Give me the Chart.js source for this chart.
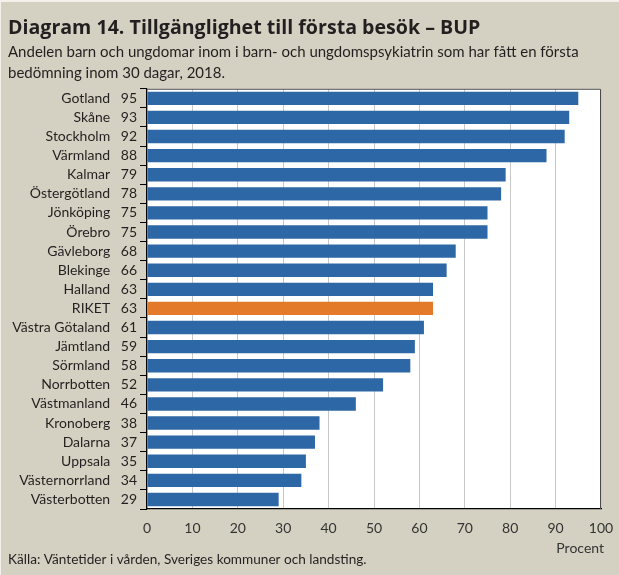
<!DOCTYPE html>
<html>
<head>
<meta charset="utf-8">
<script src="https://cdn.jsdelivr.net/npm/chart.js@4"></script>
<style>
  body { margin: 0; background: #f3f1ea; }
  #wrap { position: absolute; left: 1px; top: 2px; width: 618px; height: 573px; background: #d5d1c2; }
</style>
</head>
<body>
<div id="wrap"><canvas id="chart" width="618" height="573"></canvas></div>
<script>
var regions = ['Gotland', 'Skåne', 'Stockholm', 'Värmland', 'Kalmar', 'Östergötland', 'Jönköping', 'Örebro',
  'Gävleborg', 'Blekinge', 'Halland', 'RIKET', 'Västra Götaland', 'Jämtland', 'Sörmland', 'Norrbotten',
  'Västmanland', 'Kronoberg', 'Dalarna', 'Uppsala', 'Västernorrland', 'Västerbotten'];
var share = [95, 93, 92, 88, 79, 78, 75, 75, 68, 66, 63, 63, 61, 59, 58, 52, 46, 38, 37, 35, 34, 29];
var xTicks = [0, 10, 20, 30, 40, 50, 60, 70, 80, 90, 100];

var blue = '#2e67a5';
var orange = '#e27a2a';
var txt = '#231f20';

var barColors = [];
for (let i = 0; i < regions.length; i++) {
  barColors[i] = regions[i] == 'RIKET' ? orange : blue;
}

var framePlugin = {
  id: 'frame',
  beforeDraw: function (chart) {
    var a = chart.chartArea;
    var ctx = chart.ctx;
    ctx.save();
    ctx.fillStyle = '#ffffff';
    ctx.fillRect(a.left, a.top, a.right - a.left, a.bottom - a.top);
    ctx.restore();
  },
  afterDraw: function (chart) {
    var a = chart.chartArea;
    var ctx = chart.ctx;
    ctx.save();
    // top and right edge of the plot box
    ctx.strokeStyle = '#4a4a4a';
    ctx.lineWidth = 1;
    ctx.beginPath();
    ctx.moveTo(a.left, a.top + 0.5);
    ctx.lineTo(a.right - 0.5, a.top + 0.5);
    ctx.lineTo(a.right - 0.5, a.bottom);
    ctx.stroke();
    ctx.textBaseline = 'middle';
    // unit label under the x axis
    ctx.fillStyle = '#333';
    ctx.font = '14px Lato';
    ctx.textAlign = 'right';
    ctx.fillText('Procent', 603, 546);
    // source line
    ctx.fillStyle = txt;
    ctx.font = '13.6px Lato';
    ctx.textAlign = 'left';
    ctx.fillText('Källa: Väntetider i vården, Sveriges kommuner och landsting.', 7, 558);
    ctx.restore();
  }
};

var ctx = document.getElementById('chart');
var chart = new Chart(ctx, {
  type: 'bar',
  data: {
    labels: regions,
    datasets: [{
      data: share,
      backgroundColor: barColors,
      barPercentage: 0.7,
      categoryPercentage: 1
    }]
  },
  plugins: [framePlugin],
  options: {
    indexAxis: 'y',
    responsive: false,
    animation: false,
    layout: { padding: { left: 7, right: 18, top: 0, bottom: 0 } },
    plugins: {
      legend: { display: false },
      tooltip: { enabled: false },
      title: {
        display: true,
        align: 'start',
        text: 'Diagram 14. Tillgänglighet till första besök – BUP',
        color: txt,
        font: { family: 'Open Sans', size: 19.6, weight: 'bold', lineHeight: 1.1 },
        padding: { top: 16, bottom: 2.2 }
      },
      subtitle: {
        display: true,
        align: 'start',
        text: ['Andelen barn och ungdomar inom i barn- och ungdomspsykiatrin som har fått en första',
          'bedömning inom 30 dagar, 2018.'],
        color: txt,
        font: { family: 'Lato', size: 15, lineHeight: 1.4 },
        padding: { top: 0, bottom: 5 }
      }
    },
    scales: {
      x: {
        min: 0,
        max: 100,
        afterBuildTicks: function (scale) {
          scale.ticks = xTicks.map(v => ({ value: v }));
        },
        afterFit: function (scale) {
          scale.height = 66;
          scale.paddingLeft = 0;
          scale.paddingRight = 0;
        },
        grid: { color: '#c8c8c8', drawTicks: false },
        border: { color: '#000', width: 1.2 },
        ticks: { color: '#333', font: { family: 'Lato', size: 14 }, padding: 11 }
      },
      y: {
        afterFit: function (scale) { scale.width = 139; },
        grid: { drawOnChartArea: false, tickLength: 7, color: '#000', offset: true },
        border: { color: '#000', width: 1.2 },
        ticks: {
          color: txt,
          font: { family: 'Lato', size: 14 },
          padding: 3,
          autoSkip: false,
          callback: function (val, i) {
            return regions[i] + '\u2002 ' + share[i];
          }
        }
      }
    }
  }
});
</script>
</body>
</html>
